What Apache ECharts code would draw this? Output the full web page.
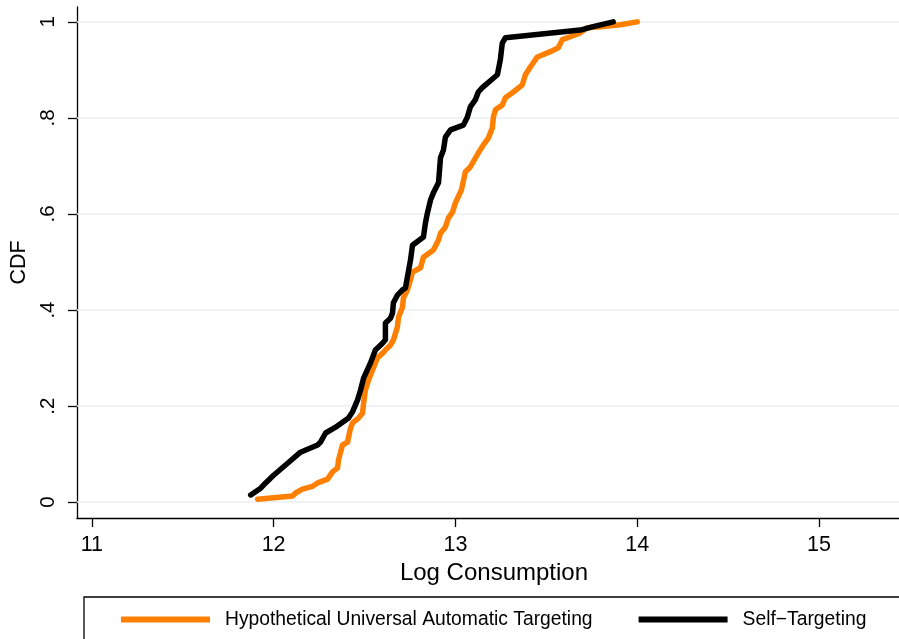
<!DOCTYPE html>
<html>
<head>
<meta charset="utf-8">
<script src="https://cdn.jsdelivr.net/npm/echarts@6/dist/echarts.min.js"></script>
<style>html,body{margin:0;padding:0;background:#fff}#c{width:899px;height:639px}</style>
</head>
<body>
<div id="c"></div>
<script>
const xTicks = [11, 12, 13, 14, 15];
const yTicks = [0, 0.2, 0.4, 0.6, 0.8, 1];
const yTickLabels = ['0', '.2', '.4', '.6', '.8', '1'];
const seriesNames = ['Hypothetical Universal Automatic Targeting', 'Self\u2212Targeting'];

const universalX = [11.912,12.104,12.121,12.159,12.214,12.242,12.297,12.324,12.352,12.357,12.379,12.407,12.412,12.423,12.434,12.467,12.489,12.495,12.505,12.522,12.544,12.571,12.599,12.626,12.643,12.659,12.681,12.687,12.709,12.714,12.736,12.753,12.764,12.808,12.824,12.879,12.907,12.918,12.945,12.962,12.984,13.000,13.033,13.055,13.082,13.126,13.154,13.181,13.203,13.209,13.220,13.258,13.275,13.319,13.368,13.385,13.412,13.451,13.522,13.566,13.588,13.632,13.687,13.725,13.797,13.907,14.000];
const universalY = [0.006,0.013,0.019,0.027,0.033,0.040,0.048,0.063,0.071,0.088,0.119,0.125,0.135,0.154,0.165,0.175,0.185,0.206,0.233,0.254,0.275,0.300,0.310,0.321,0.327,0.338,0.365,0.385,0.406,0.425,0.442,0.463,0.479,0.488,0.510,0.525,0.546,0.560,0.573,0.592,0.604,0.623,0.650,0.688,0.698,0.727,0.744,0.758,0.779,0.802,0.817,0.827,0.842,0.854,0.869,0.890,0.906,0.927,0.938,0.946,0.963,0.969,0.977,0.988,0.990,0.994,1.000];

const selfX = [11.874,11.929,11.956,12.000,12.077,12.148,12.242,12.258,12.286,12.341,12.412,12.434,12.462,12.478,12.495,12.533,12.549,12.560,12.599,12.615,12.615,12.643,12.654,12.659,12.681,12.709,12.725,12.736,12.753,12.764,12.824,12.835,12.846,12.863,12.879,12.907,12.918,12.934,12.945,12.973,13.044,13.066,13.082,13.110,13.126,13.148,13.231,13.236,13.247,13.258,13.275,13.687,13.758,13.868];
const selfY = [0.015,0.029,0.040,0.056,0.081,0.104,0.119,0.125,0.144,0.156,0.175,0.188,0.213,0.233,0.258,0.290,0.306,0.317,0.331,0.338,0.373,0.383,0.394,0.415,0.431,0.442,0.446,0.469,0.504,0.535,0.552,0.581,0.602,0.629,0.644,0.665,0.717,0.733,0.760,0.775,0.785,0.802,0.823,0.838,0.854,0.863,0.890,0.894,0.921,0.956,0.967,0.983,0.990,1.000];

const pair = (xs, ys) => xs.map((x, i) => [x, ys[i]]);
const font = 'Liberation Sans, Arial, sans-serif';

const chart = echarts.init(document.getElementById('c'), null, {renderer: 'canvas'});
chart.setOption({
  animation: false,
  backgroundColor: '#fff',
  grid: {left: 76, top: 7, right: 0, bottom: 121, containLabel: false},
  xAxis: {
    type: 'value', min: 10.918, max: 15.44,
    name: 'Log Consumption', nameLocation: 'middle', nameGap: 34,
    nameTextStyle: {fontFamily: font, fontSize: 24, color: '#000', padding: [0, 0, 0, 12]},
    axisLine: {show: true, onZero: false, lineStyle: {color: '#000', width: 1.3}},
    axisTick: {show: true, length: 9, customValues: xTicks, lineStyle: {color: '#000', width: 1.3}},
    axisLabel: {customValues: xTicks, fontFamily: font, fontSize: 21.5, color: '#000', margin: 16},
    splitLine: {show: false}
  },
  yAxis: {
    type: 'value', min: -0.033, max: 1.031,
    name: 'CDF', nameLocation: 'middle', nameGap: 43, nameRotate: 90,
    nameTextStyle: {fontFamily: font, fontSize: 21.5, color: '#000'},
    axisLine: {show: true, onZero: false, lineStyle: {color: '#000', width: 1.3}},
    axisTick: {show: true, length: 9, customValues: yTicks, lineStyle: {color: '#000', width: 1.3}},
    axisLabel: {customValues: yTicks, rotate: 90, fontFamily: font, fontSize: 20.5, color: '#000', margin: 18,
      formatter: v => { const i = yTicks.findIndex(t => Math.abs(t - v) < 1e-6); return i >= 0 ? yTickLabels[i] : ''; }},
    splitLine: {show: false}
  },
  legend: {
    left: 84, top: 597, width: 1200, orient: 'horizontal',
    padding: [13, 200, 20, 37],
    borderColor: '#000', borderWidth: 1.3,
    itemWidth: 89, itemHeight: 6, itemGap: 46,
    icon: 'rect',
    textStyle: {fontFamily: font, fontSize: 19.3, color: '#000', padding: [0, 0, 0, 10]},
    data: seriesNames
  },
  series: [
    {
      name: seriesNames[0], type: 'line', data: pair(universalX, universalY),
      showSymbol: false, symbol: 'none', color: '#ff7f00',
      lineStyle: {color: '#ff7f00', width: 5.5, join: 'round', cap: 'round'},
      z: 3,
      markLine: {
        silent: true, symbol: 'none', label: {show: false},
        lineStyle: {color: '#e8f0f2', width: 1.5, type: 'solid'},
        z: 1,
        data: yTicks.map(v => ({yAxis: v}))
      }
    },
    {
      name: seriesNames[1], type: 'line', data: pair(selfX, selfY),
      showSymbol: false, symbol: 'none', color: '#000',
      lineStyle: {color: '#000', width: 5.5, join: 'round', cap: 'round'},
      z: 4
    }
  ]
});
</script>
</body>
</html>
